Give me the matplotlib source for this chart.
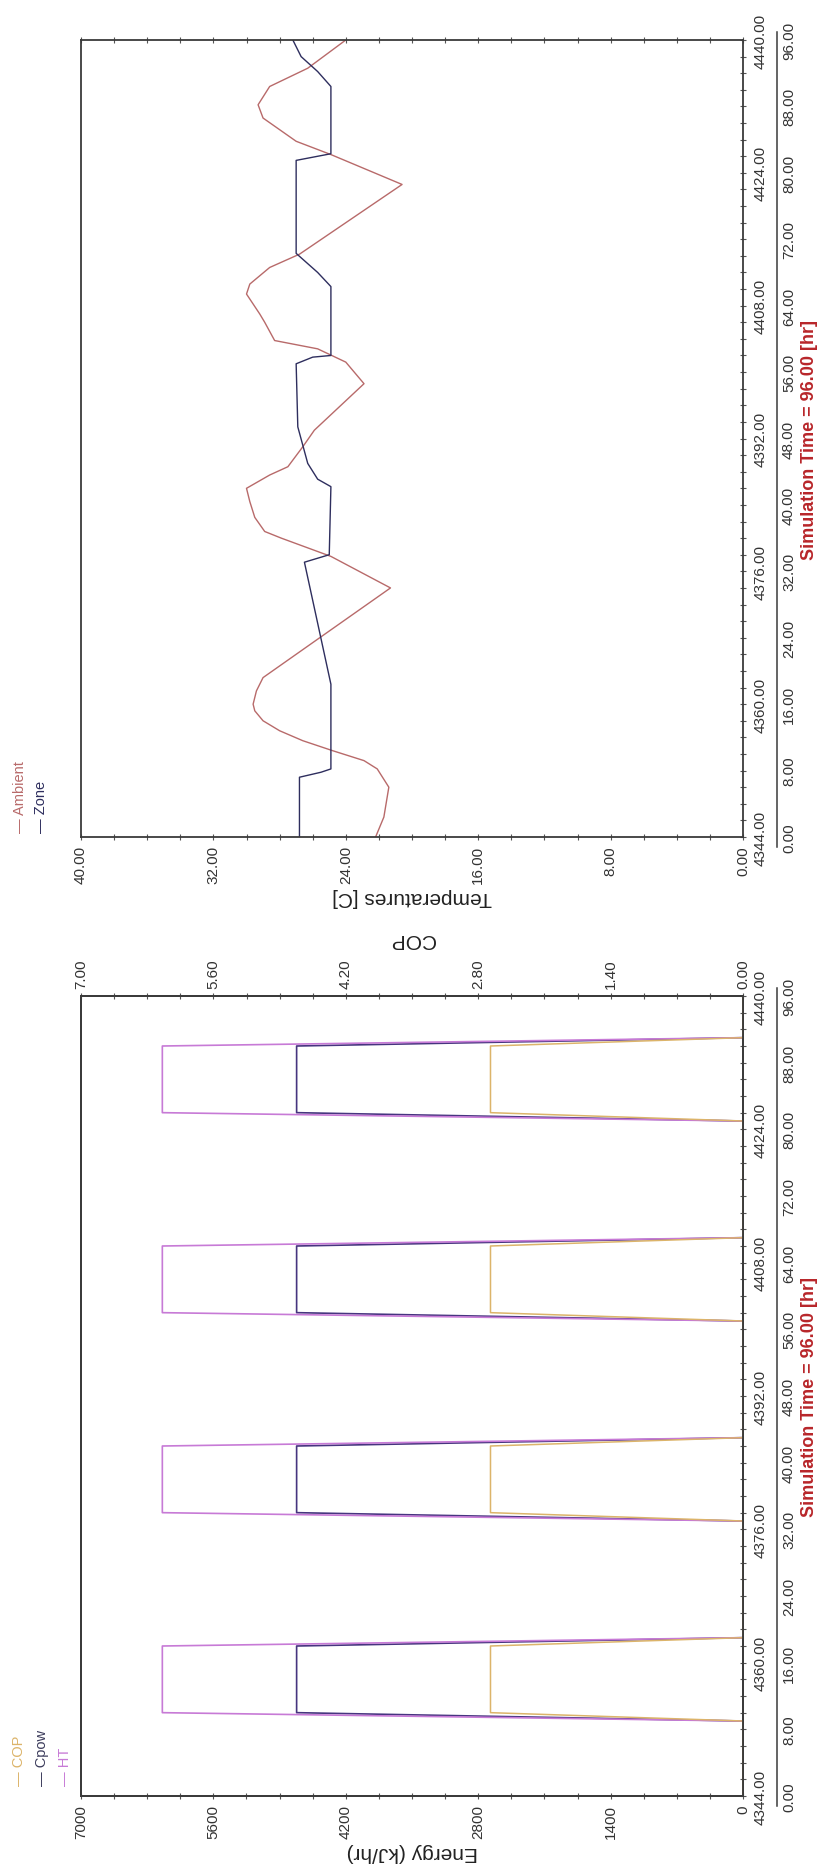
import numpy as np
import matplotlib
matplotlib.use("Agg")
import matplotlib.pyplot as plt
from matplotlib.ticker import FixedLocator, NullFormatter, FixedFormatter
from matplotlib.transforms import blended_transform_factory as blend

# ---------------- data ----------------
# simulation hours (relative to start hour 4344)
start_hour = 4344
rel_labels = [0, 8, 16, 24, 32, 40, 48, 56, 64, 72, 80, 88, 96]
abs_labels = [0, 16, 32, 48, 64, 80, 96]

# ambient temperature [C]
amb_t = [0, 2.4, 4.8, 6.0, 8.2, 9.2, 10.4, 11.6, 12.8, 14.0, 15.2, 16.0, 17.6, 19.2,
         30.0, 33.8, 36.0, 36.8, 38.5, 40.4, 42.0, 43.6, 44.6, 47.0, 49.0, 51.8,
         54.6, 57.2, 58.8, 59.8, 62.0, 63.0, 65.4, 66.6, 68.6, 70.2, 78.6, 82.2,
         83.8, 86.6, 88.2, 90.4, 92.6, 96.0]
amb_v = [22.2, 21.7, 21.5, 21.4, 22.1, 22.9, 24.8, 26.6, 28.0, 29.0, 29.5, 29.6, 29.4, 29.0,
         21.3, 24.9, 27.9, 28.9, 29.5, 29.8, 30.0, 28.6, 27.5, 26.6, 25.9, 24.4,
         22.9, 24.0, 25.7, 28.3, 28.9, 29.2, 30.0, 29.8, 28.6, 26.8, 20.6, 24.9,
         27.0, 29.0, 29.3, 28.6, 26.3, 24.0]

# zone temperature [C]
zone_t = [0, 7.2, 7.8, 8.2, 18.4, 33.1, 34.0, 42.2, 43.1, 45.0, 49.4, 57.0, 57.8, 58.0,
          66.3, 68.0, 70.3, 81.5, 82.3, 90.4, 92.2, 94.0, 96.0]
zone_v = [26.8, 26.8, 25.5, 24.9, 24.9, 26.5, 25.0, 24.9, 25.7, 26.3, 26.9, 27.0, 26.0, 24.9,
          24.9, 25.7, 27.0, 27.0, 24.9, 24.9, 25.7, 26.7, 27.2]

# heat-pump energy rates [kJ/hr] and COP
pulse_t = [0, 9, 10, 18, 19, 33, 34, 42, 43, 57, 58, 66, 67, 81, 82, 90, 91, 96]
ht_v    = [0, 0, 6140, 6140, 0, 0, 6140, 6140, 0, 0, 6140, 6140, 0, 0, 6140, 6140, 0, 0]
cpow_v  = [0, 0, 4720, 4720, 0, 0, 4720, 4720, 0, 0, 4720, 4720, 0, 0, 4720, 4720, 0, 0]
cop_v   = [0, 0, 2.67, 2.67, 0, 0, 2.67, 2.67, 0, 0, 2.67, 2.67, 0, 0, 2.67, 2.67, 0, 0]

temp_labels = [0, 8, 16, 24, 32, 40]
energy_labels = [0, 1400, 2800, 4200, 5600, 7000]
cop_labels = [0.0, 1.4, 2.8, 4.2, 5.6, 7.0]

# ---------------- styling ----------------
NARROW = ["Liberation Sans Narrow", "Liberation Sans", "DejaVu Sans"]
REG = ["Liberation Sans", "DejaVu Sans"]
TXT = "#333333"
SPINE = "#3a3a3a"
C_AMB = "#b86a6a"
C_ZONE = "#2e2e5e"
C_HT = "#c77ad6"
C_CPOW = "#46357f"
C_COP = "#dcb46a"
C_SIM = "#b8262a"

W, H = 827, 1865
fig = plt.figure(figsize=(W / 100, H / 100), dpi=100)
fig.patch.set_facecolor("white")


def rect(l, t, r, b):
    return [l / W, 1 - b / H, (r - l) / W, (b - t) / H]


def style_time_axis(ax):
    ax.set_ylim(0, 96)
    for s in ax.spines.values():
        s.set_color(SPINE)
        s.set_linewidth(1.3)
    ax.yaxis.tick_right()
    ax.yaxis.set_major_locator(FixedLocator(np.arange(0, 97, 2)))
    ax.yaxis.set_major_formatter(NullFormatter())
    ax.tick_params(axis="y", which="both", direction="inout", length=4,
                   width=0.8, color="#555555", left=False, right=True)
    tr = blend(ax.transAxes, ax.transData)
    x_abs = (761 - 81) / 662
    x_rel = (789 - 81) / 662
    x_sep = (777 - 81) / 662
    for h in abs_labels:
        ax.text(x_abs, h, f"{start_hour + h:.2f}", transform=tr, rotation=90,
                ha="center", va="center", fontsize=11, family=NARROW, color=TXT)
    for h in rel_labels:
        ax.text(x_rel, h, f"{h:.2f}", transform=tr, rotation=90,
                ha="center", va="center", fontsize=11, family=NARROW, color=TXT)
    ax.plot([x_sep, x_sep], [-1.2, 97.0], transform=tr, clip_on=False,
            color=SPINE, lw=1.1)
    ax.text((810 - 81) / 662, 48, "Simulation Time = 96.00 [hr]", transform=tr,
            rotation=90, ha="center", va="center", fontsize=13, family=NARROW,
            fontweight="bold", color=C_SIM)


def value_ticks(axis, labels, step, fmt, top=False):
    lo, hi = min(labels), max(labels)
    axis.set_major_locator(FixedLocator(labels))
    axis.set_major_formatter(FixedFormatter([fmt(v) for v in labels]))
    axis.set_minor_locator(FixedLocator(np.arange(lo, hi + step / 2, step)))


# ---------------- temperature panel ----------------
ax_t = fig.add_axes(rect(81, 41, 743, 838))
ax_t.plot(amb_v, amb_t, color=C_AMB, lw=1.0)
ax_t.plot(zone_v, zone_t, color=C_ZONE, lw=1.0)
ax_t.set_xlim(40, 0)
value_ticks(ax_t.xaxis, temp_labels, 2, lambda v: f"{v:.2f}")
ax_t.tick_params(axis="x", which="both", direction="inout", length=4, width=0.8,
                 color="#555555", top=True, bottom=True, labelrotation=90, pad=4,
                 labelsize=11, labelcolor=TXT)
for lab in ax_t.get_xticklabels():
    lab.set_family(NARROW)
style_time_axis(ax_t)

fig.text(412 / W, 1 - 897 / H, "Temperatures [C]", rotation=180, ha="center",
         va="center", fontsize=15, family=REG, color="#222222")
fig.text(20 / W, 1 - 833 / H, "— Ambient", rotation=90, ha="center", va="bottom",
         fontsize=10.5, family=REG, color=C_AMB)
fig.text(41 / W, 1 - 833 / H, "— Zone", rotation=90, ha="center", va="bottom",
         fontsize=10.5, family=REG, color=C_ZONE)

# ---------------- energy panel ----------------
ax_e = fig.add_axes(rect(81, 997, 743, 1797))
ax_e.plot(cpow_v, pulse_t, color=C_CPOW, lw=1.2)
ax_e.plot(ht_v, pulse_t, color=C_HT, lw=1.2)
ax_e.set_xlim(7000, 0)
value_ticks(ax_e.xaxis, energy_labels, 350, lambda v: f"{v:d}")
ax_e.tick_params(axis="x", which="both", direction="inout", length=4, width=0.8,
                 color="#555555", top=False, bottom=True, labelrotation=90, pad=4,
                 labelsize=11, labelcolor=TXT)
for lab in ax_e.get_xticklabels():
    lab.set_family(NARROW)
style_time_axis(ax_e)

ax_c = ax_e.twiny()
ax_c.plot(cop_v, pulse_t, color=C_COP, lw=1.1)
ax_c.set_xlim(7, 0)
ax_c.set_ylim(0, 96)
value_ticks(ax_c.xaxis, cop_labels, 0.35, lambda v: f"{v:.2f}")
ax_c.tick_params(axis="x", which="both", direction="inout", length=4, width=0.8,
                 color="#555555", top=True, bottom=False, labeltop=True,
                 labelbottom=False, labelrotation=90, pad=4, labelsize=11,
                 labelcolor=TXT)
for lab in ax_c.get_xticklabels():
    lab.set_family(NARROW)
for s in ax_c.spines.values():
    s.set_color(SPINE)
    s.set_linewidth(1.3)

fig.text(412 / W, 1 - 1853 / H, "Energy (kJ/hr)", rotation=180, ha="center",
         va="center", fontsize=15, family=REG, color="#222222")
fig.text(412 / W, 1 - 940 / H, "COP", rotation=180, ha="center", va="center",
         fontsize=15, family=REG, color="#222222")
fig.text(19 / W, 1 - 1786 / H, "— COP", rotation=90, ha="center", va="bottom",
         fontsize=10.5, family=REG, color=C_COP)
fig.text(42 / W, 1 - 1786 / H, "— Cpow", rotation=90, ha="center", va="bottom",
         fontsize=10.5, family=REG, color="#3c3c5c")
fig.text(65 / W, 1 - 1786 / H, "— HT", rotation=90, ha="center", va="bottom",
         fontsize=10.5, family=REG, color=C_HT)

fig.savefig("out.png", dpi=100, facecolor="white")
